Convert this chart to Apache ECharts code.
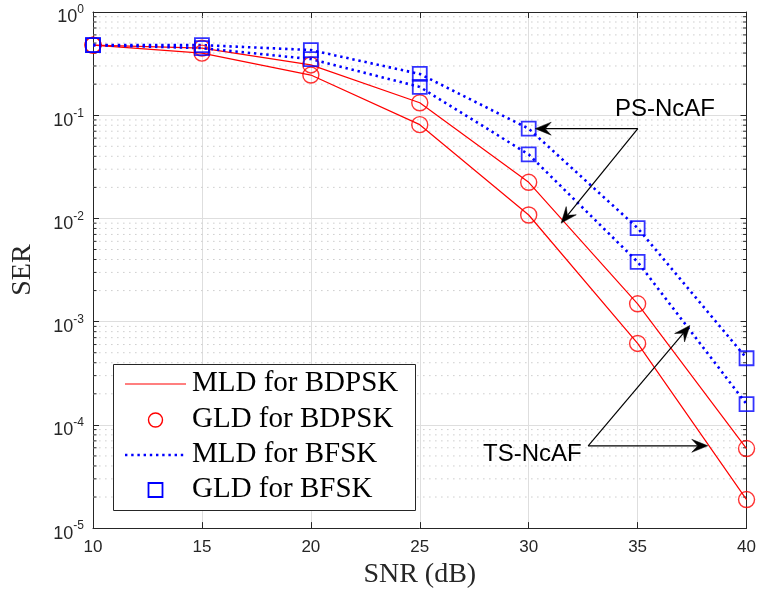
<!DOCTYPE html>
<html>
<head>
<meta charset="utf-8">
<script src="https://cdn.jsdelivr.net/npm/echarts@6/dist/echarts.min.js"></script>
<style>html,body{margin:0;padding:0;background:#fff}#c{width:759px;height:594px}</style>
</head>
<body>
<div id="c"></div>
<script>
// ---- data ----
const snr = [10, 15, 20, 25, 30, 35, 40];
// BDPSK, PS-NcAF (upper) and TS-NcAF (lower)
const mldBdpskPS = [0.478, 0.447, 0.307, 0.132, 0.0224, 0.00149, 5.9e-5];
const mldBdpskTS = [0.478, 0.400, 0.245, 0.081, 0.0108, 6.15e-4, 1.89e-5];
const gldBdpskPS = [0.478, 0.447, 0.307, 0.132, 0.0224, 0.00149, 5.9e-5];
const gldBdpskTS = [0.478, 0.400, 0.245, 0.081, 0.0108, 6.15e-4, 1.89e-5];
// BFSK, PS-NcAF (upper) and TS-NcAF (lower)
const mldBfskPS = [0.478, 0.478, 0.428, 0.251, 0.0741, 0.00807, 4.42e-4];
const mldBfskTS = [0.478, 0.447, 0.350, 0.188, 0.0417, 0.00379, 1.59e-4];
const gldBfskPS = [0.478, 0.478, 0.428, 0.251, 0.0741, 0.00807, 4.42e-4];
const gldBfskTS = [0.478, 0.447, 0.350, 0.188, 0.0417, 0.00379, 1.59e-4];
const xTicks = [10, 15, 20, 25, 30, 35, 40];
const yDecades = [-5, -4, -3, -2, -1, 0];
const legendNames = ['MLD for BDPSK', 'GLD for BDPSK', 'MLD for BFSK', 'GLD for BFSK'];
// annotation arrows in data coordinates: [xFrom, yFrom, xTo, yTo]
const arrowsData = [
  [35.01, 0.0741, 30.3, 0.0741],
  [35.01, 0.0741, 31.49, 0.00901],
  [32.73, 6.27e-5, 38.22, 6.27e-5],
  [32.73, 6.27e-5, 37.4, 9.18e-4]
];

const RED = '#ff0000', BLUE = '#0000ff', AX = '#262626';
const pair = (xs, ys) => xs.map((x, i) => [x, ys[i]]);
const minorVals = [];
yDecades.slice(0, -1).forEach(d => { for (let m = 2; m <= 9; m++) minorVals.push([m * Math.pow(10, d)]); });

const chart = echarts.init(document.getElementById('c'), null, {renderer: 'canvas'});
const sansFont = "'Liberation Sans', Arial, Helvetica, sans-serif";
const serifFont = "'Liberation Serif', 'Times New Roman', serif";
const BLUE_DASH = [2.4, 3.8];

function redLine(name, data) {
  return {name, type: 'line', data: pair(snr, data), symbol: 'none', z: 3,
    lineStyle: {color: RED, width: 1.2}, itemStyle: {color: RED}};
}
function blueLine(name, data) {
  return {name, type: 'line', data: pair(snr, data), symbol: 'none', z: 3,
    lineStyle: {color: BLUE, width: 2.6, type: BLUE_DASH}, itemStyle: {color: BLUE}};
}
function markers(name, data, symbol, size, color, bw) {
  return {name, type: 'scatter', data: pair(snr, data), symbol, symbolSize: size, z: 4,
    itemStyle: {color: 'rgba(0,0,0,0)', borderColor: color, borderWidth: bw}};
}

// ---- hand-drawn legend box (MATLAB style) ----
const LG = {x: 113, y: 364, w: 302, h: 146, rows: [384, 420, 455, 490], ix0: 125, ix1: 186, tx: 192};
const icx = (LG.ix0 + LG.ix1) / 2;
const legendGraphic = [
  {type: 'rect', shape: {x: LG.x + 0.5, y: LG.y + 0.5, width: LG.w, height: LG.h}, z: 50,
   style: {fill: '#fff', stroke: AX, lineWidth: 1}},
  {type: 'line', shape: {x1: LG.ix0, y1: LG.rows[0], x2: LG.ix1, y2: LG.rows[0]}, z: 51,
   style: {stroke: RED, lineWidth: 1.2}},
  {type: 'circle', shape: {cx: icx, cy: LG.rows[1], r: 7}, z: 51,
   style: {fill: 'none', stroke: RED, lineWidth: 1.4}},
  {type: 'line', shape: {x1: LG.ix0, y1: LG.rows[2], x2: LG.ix1 - 2, y2: LG.rows[2]}, z: 51,
   style: {stroke: BLUE, lineWidth: 2.6, lineDash: BLUE_DASH}},
  {type: 'rect', shape: {x: icx - 7, y: LG.rows[3] - 7, width: 14, height: 14}, z: 51,
   style: {fill: 'none', stroke: BLUE, lineWidth: 1.8}}
].concat(legendNames.map((n, i) => ({
  type: 'text', x: LG.tx, y: LG.rows[i] - 1, z: 52,
  style: {text: n, font: "29px 'Liberation Serif', 'Times New Roman', serif", fill: '#000',
          verticalAlign: 'middle', align: 'left'}
})));

const option = {
  animation: false,
  backgroundColor: '#fff',
  grid: {left: 93, right: 10, top: 12, bottom: 63},
  xAxis: [{
    type: 'value', min: 10, max: 40, interval: 5, position: 'bottom',
    name: 'SNR (dB)', nameLocation: 'middle', nameGap: 20,
    nameTextStyle: {fontFamily: serifFont, fontSize: 28, color: AX},
    axisLine: {show: true, lineStyle: {color: AX, width: 1}},
    axisTick: {show: true, inside: true, length: 6, lineStyle: {color: AX}},
    axisLabel: {fontFamily: sansFont, fontSize: 17, color: AX, margin: 11},
    splitLine: {show: true, lineStyle: {color: '#dedede', width: 1}}
  }, {
    type: 'value', min: 10, max: 40, interval: 5, position: 'top',
    axisLine: {show: true, onZero: false, lineStyle: {color: AX, width: 1}},
    axisTick: {show: true, inside: true, length: 6, lineStyle: {color: AX}},
    axisLabel: {show: false}, splitLine: {show: false}
  }],
  yAxis: [{
    type: 'log', logBase: 10, min: 1e-5, max: 1, interval: 1, position: 'left',
    name: 'SER', nameLocation: 'middle', nameGap: 56, nameRotate: 90,
    nameTextStyle: {fontFamily: serifFont, fontSize: 28, color: AX},
    axisLine: {show: true, lineStyle: {color: AX, width: 1}},
    axisTick: {show: true, inside: true, length: 6, lineStyle: {color: AX}},
    axisLabel: {
      margin: 9, color: AX,
      formatter: v => '{b|10}{s|' + Math.round(Math.log10(v)) + '}',
      rich: {b: {fontFamily: sansFont, fontSize: 18, color: AX, padding: [11, 0, 0, 0]},
             s: {fontFamily: sansFont, fontSize: 12, color: AX, padding: [0, 0, 4, 0]}}
    },
    splitLine: {show: true, lineStyle: {color: '#dedede', width: 1}}
  }, {
    type: 'log', logBase: 10, min: 1e-5, max: 1, interval: 1, position: 'right',
    axisLine: {show: true, onZero: false, lineStyle: {color: AX, width: 1}},
    axisTick: {show: true, inside: true, length: 6, lineStyle: {color: AX}},
    axisLabel: {show: false}, splitLine: {show: false}
  }],
  graphic: [
    {type: 'text', left: 615, top: 97, z: 100,
     style: {text: 'PS-NcAF', font: "24px 'Liberation Sans', Arial, sans-serif", fill: '#000'}},
    {type: 'text', left: 483, top: 442, z: 100,
     style: {text: 'TS-NcAF', font: "24px 'Liberation Sans', Arial, sans-serif", fill: '#000'}}
  ].concat(legendGraphic),
  series: [
    {
      name: 'minorgrid', type: 'custom', z: 1, silent: true,
      data: minorVals, encode: {y: 0},
      renderItem: function (params, api) {
        const cs = params.coordSys;
        const y = api.coord([10, api.value(0)])[1];
        const x0 = cs.x, x1 = cs.x + cs.width;
        return {type: 'group', children: [
          {type: 'line', shape: {x1: x0, y1: y, x2: x1, y2: y},
           style: {stroke: '#cfcfcf', lineWidth: 1, lineDash: [1.6, 4.4]}},
          {type: 'line', shape: {x1: x0, y1: y, x2: x0 + 3.5, y2: y}, style: {stroke: AX, lineWidth: 1}},
          {type: 'line', shape: {x1: x1 - 3.5, y1: y, x2: x1, y2: y}, style: {stroke: AX, lineWidth: 1}}
        ]};
      }
    },
    redLine('MLD for BDPSK', mldBdpskPS),
    redLine('MLD for BDPSK', mldBdpskTS),
    markers('GLD for BDPSK', gldBdpskPS, 'circle', 16, RED, 1.4),
    markers('GLD for BDPSK', gldBdpskTS, 'circle', 16, RED, 1.4),
    blueLine('MLD for BFSK', mldBfskPS),
    blueLine('MLD for BFSK', mldBfskTS),
    markers('GLD for BFSK', gldBfskPS, 'rect', 14, BLUE, 1.8),
    markers('GLD for BFSK', gldBfskTS, 'rect', 14, BLUE, 1.8),
    {
      name: 'arrows', type: 'custom', z: 6, silent: true,
      data: arrowsData, encode: {x: [0, 2], y: [1, 3]},
      renderItem: function (params, api) {
        const p0 = api.coord([api.value(0), api.value(1)]);
        const p1 = api.coord([api.value(2), api.value(3)]);
        const dx = p1[0] - p0[0], dy = p1[1] - p0[1];
        const len = Math.sqrt(dx * dx + dy * dy);
        const ux = dx / len, uy = dy / len, nx = -uy, ny = ux;
        const L = 16, HW = 6.5, N = 10;
        const back = [p1[0] - ux * L, p1[1] - uy * L];
        const notch = [p1[0] - ux * N, p1[1] - uy * N];
        return {type: 'group', children: [
          {type: 'line', shape: {x1: p0[0], y1: p0[1], x2: notch[0], y2: notch[1]},
           style: {stroke: '#000', lineWidth: 1.2}},
          {type: 'polygon', shape: {points: [
            p1, [back[0] + nx * HW, back[1] + ny * HW], notch, [back[0] - nx * HW, back[1] - ny * HW]
          ]}, style: {fill: '#000', stroke: '#000', lineWidth: 0.5}}
        ]};
      }
    }
  ]
};
chart.setOption(option);
</script>
</body>
</html>
